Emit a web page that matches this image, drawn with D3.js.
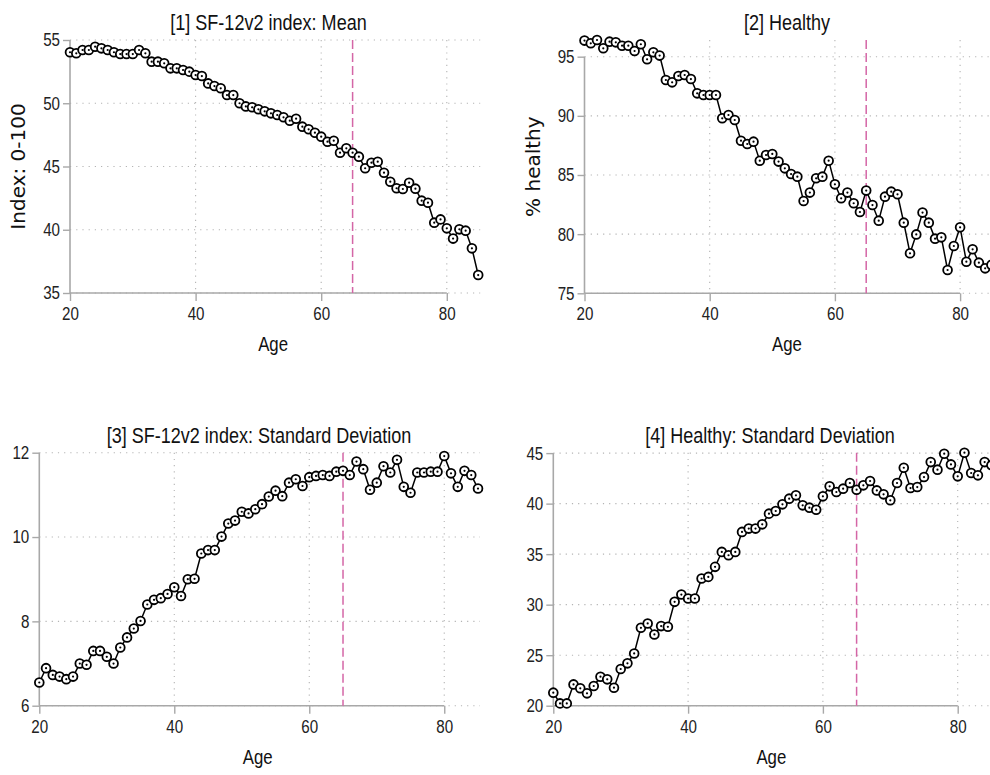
<!DOCTYPE html>
<html>
<head>
<meta charset="utf-8">
<script src="https://cdn.jsdelivr.net/npm/d3@7"></script>
<style>
  html, body { margin: 0; padding: 0; background: #fff; overflow: hidden; }
  svg { display: block; }
  .narrow { font-family: "Liberation Sans", Arial, Helvetica, sans-serif; }
</style>
</head>
<body>
<svg id="chart" width="990" height="775"></svg>
<script>
// ---------------- data ----------------
const ages = [20,21,22,23,24,25,26,27,28,29,30,31,32,33,34,35,36,37,38,39,40,41,42,43,44,45,46,47,48,49,50,51,52,53,54,55,56,57,58,59,60,61,62,63,64,65,66,67,68,69,70,71,72,73,74,75,76,77,78,79,80,81,82,83,84,85];

const sfMean = [54.03,53.95,54.21,54.21,54.47,54.34,54.21,54.03,53.89,53.89,53.89,54.21,53.95,53.29,53.29,53.16,52.76,52.76,52.63,52.50,52.23,52.15,51.57,51.36,51.18,50.65,50.65,50.00,49.75,49.68,49.52,49.36,49.20,49.07,48.89,48.62,48.78,48.15,47.94,47.67,47.36,46.96,47.04,46.09,46.44,46.09,45.78,44.86,45.30,45.38,44.51,43.80,43.28,43.22,43.72,43.25,42.30,42.14,40.56,40.82,40.11,39.30,40.03,39.93,38.53,36.42];

const healthyPct = [96.36,96.13,96.41,95.71,96.27,96.21,95.93,95.93,95.48,96.05,94.78,95.37,95.09,93.03,92.83,93.37,93.45,93.11,91.90,91.76,91.76,91.76,89.79,90.07,89.65,87.90,87.62,87.82,86.21,86.69,86.78,86.13,85.56,85.08,84.86,82.80,83.51,84.72,84.86,86.21,84.21,83.03,83.51,82.61,81.87,83.68,82.46,81.14,83.17,83.59,83.37,80.97,78.38,79.98,81.82,80.97,79.62,79.73,76.97,79.00,80.58,77.67,78.72,77.59,77.11,77.40];

const sfSD = [6.55,6.89,6.73,6.69,6.63,6.69,7.00,6.97,7.30,7.30,7.16,7.00,7.38,7.62,7.83,8.01,8.40,8.51,8.55,8.65,8.81,8.60,9.00,9.01,9.61,9.69,9.69,10.01,10.32,10.39,10.60,10.56,10.66,10.78,10.96,11.10,10.97,11.29,11.37,11.21,11.42,11.45,11.47,11.45,11.55,11.57,11.47,11.79,11.61,11.12,11.29,11.68,11.53,11.83,11.19,11.05,11.53,11.53,11.55,11.55,11.92,11.51,11.19,11.57,11.47,11.15];

const healthySD = [21.29,20.23,20.23,22.11,21.72,21.22,21.95,22.87,22.61,21.78,23.63,24.19,25.17,27.71,28.14,27.05,27.88,27.81,30.28,31.00,30.61,30.61,32.59,32.75,33.74,35.22,34.89,35.22,37.20,37.53,37.53,37.95,39.01,39.27,39.93,40.49,40.82,39.83,39.60,39.40,40.72,41.71,41.15,41.48,42.04,41.38,41.81,42.24,41.31,40.92,40.33,42.04,43.55,41.54,41.64,42.63,44.11,43.36,44.94,43.88,42.70,45.04,43.03,42.80,44.11,43.80];

const xTicks = [20, 40, 60, 80];
const yTicks1 = [35, 40, 45, 50, 55];
const yTicks2 = [75, 80, 85, 90, 95];
const yTicks3 = [6, 8, 10, 12];
const yTicks4 = [20, 25, 30, 35, 40, 45];
const refAge = 65;

const titles = ["[1] SF-12v2 index: Mean", "[2] Healthy", "[3] SF-12v2 index: Standard Deviation", "[4] Healthy: Standard Deviation"];
const yTitles = ["Index: 0-100", "% healthy", "", ""];
const xTitle = "Age";

// ---------------- layout ----------------
const panels = [
  { values: sfMean,     yTicks: yTicks1, left: 70,    right: 478.2, top: 40,    bottom: 293,   titleX: 268.5, titleY: 30,  yTitleX: 25 },
  { values: healthyPct, yTicks: yTicks2, left: 584.5, right: 991.4, top: 40,    bottom: 293.3, titleX: 787,   titleY: 30,  yTitleX: 540 },
  { values: sfSD,       yTicks: yTicks3, left: 39.3,  right: 478,   top: 452.7, bottom: 705.7, titleX: 259,   titleY: 443, yTitleX: null },
  { values: healthySD,  yTicks: yTicks4, left: 553.3, right: 991.4, top: 452.7, bottom: 705.7, titleX: 770,   titleY: 443, yTitleX: null }
];

const SX = 0.82; // horizontal condensing to mimic a narrow sans face
const svg = d3.select("#chart");
const axisColor = "#a8a8a8";
const gridColor = "#b4b4b4";
const refColor = "#d466a6";

panels.forEach((p, i) => {
  const data = ages.map((a, k) => ({ age: a, v: p.values[k] }));
  const x = d3.scaleLinear().domain([d3.min(ages), d3.max(ages)]).range([p.left, p.right]);
  const yMin = d3.min(p.yTicks);
  const yMax = Math.max(d3.max(p.yTicks), d3.max(p.values));
  const y = d3.scaleLinear().domain([yMin, yMax]).range([p.bottom, p.top]);

  const g = svg.append("g");
  const gridRight = x(d3.max(ages)) + 2;

  // horizontal dotted grid
  g.selectAll(".hgrid").data(p.yTicks).enter().append("line")
    .attr("x1", p.left).attr("x2", gridRight)
    .attr("y1", d => y(d)).attr("y2", d => y(d))
    .attr("stroke", gridColor).attr("stroke-width", 1.1)
    .attr("stroke-dasharray", "1.2,5");

  // vertical dotted grid
  g.selectAll(".vgrid").data(xTicks.filter(t => t !== xTicks[0])).enter().append("line")
    .attr("x1", d => x(d)).attr("x2", d => x(d))
    .attr("y1", p.top).attr("y2", p.bottom)
    .attr("stroke", gridColor).attr("stroke-width", 1.1)
    .attr("stroke-dasharray", "1.2,5");

  // y axis
  const yAxis = d3.axisLeft(y).tickValues(p.yTicks).tickSize(7).tickPadding(3).tickFormat(d3.format("d"));
  const ya = g.append("g").attr("transform", `translate(${p.left},0)`).call(yAxis);
  ya.select(".domain").remove();
  ya.append("line").attr("x1", 0).attr("x2", 0)
    .attr("y1", y(d3.min(p.yTicks))).attr("y2", y(d3.max(p.yTicks)))
    .attr("stroke", axisColor).attr("stroke-width", 1.6);
  ya.selectAll(".tick line").attr("stroke", axisColor).attr("stroke-width", 1.4);
  ya.selectAll(".tick text").attr("class", "narrow").attr("font-size", 18.5).attr("fill", "#222")
    .attr("x", -10 / SX).attr("transform", `scale(${SX},1)`);

  // x axis
  const xAxis = d3.axisBottom(x).tickValues(xTicks).tickSize(8).tickPadding(6).tickFormat(d3.format("d"));
  const xa = g.append("g").attr("transform", `translate(0,${p.bottom})`).call(xAxis);
  xa.select(".domain").remove();
  xa.append("line").attr("y1", 0).attr("y2", 0)
    .attr("x1", x(xTicks[0])).attr("x2", x(xTicks[xTicks.length - 1]))
    .attr("stroke", axisColor).attr("stroke-width", 1.6);
  xa.selectAll(".tick line").attr("stroke", axisColor).attr("stroke-width", 1.4);
  xa.selectAll(".tick text").attr("class", "narrow").attr("font-size", 18.5).attr("fill", "#222")
    .attr("transform", `scale(${SX},1)`);

  // reference line at age 65
  g.append("line")
    .attr("x1", x(refAge)).attr("x2", x(refAge))
    .attr("y1", p.top).attr("y2", p.bottom)
    .attr("stroke", refColor).attr("stroke-width", 1.5)
    .attr("stroke-dasharray", "9,4");

  // series line
  const line = d3.line().x(d => x(d.age)).y(d => y(d.v));
  g.append("path").datum(data)
    .attr("d", line).attr("fill", "none")
    .attr("stroke", "#000").attr("stroke-width", 1.5);

  // markers
  const m = g.selectAll(".pt").data(data).enter().append("g")
    .attr("transform", d => `translate(${x(d.age)},${y(d.v)})`);
  m.append("circle").attr("r", 4.4).attr("fill", "#fff")
    .attr("stroke", "#000").attr("stroke-width", 1.8);
  m.append("circle").attr("r", 1.1).attr("fill", "#000");

  // titles
  g.append("text").attr("class", "narrow")
    .attr("transform", `translate(${p.titleX},${p.titleY}) scale(${SX},1)`)
    .attr("text-anchor", "middle").attr("font-size", 22).attr("fill", "#111")
    .text(titles[i]);

  g.append("text").attr("class", "narrow")
    .attr("transform", `translate(${(p.left + p.right) / 2 - 1},${p.bottom + 58}) scale(${SX},1)`)
    .attr("text-anchor", "middle").attr("font-size", 20.5).attr("fill", "#111")
    .text(xTitle);

  if (yTitles[i]) {
    const cy = (p.top + p.bottom) / 2;
    g.append("text")
      .attr("transform", `translate(${p.yTitleX},${cy}) rotate(-90)`)
      .attr("text-anchor", "middle")
      .attr("font-family", "'DejaVu Sans', sans-serif")
      .attr("font-size", 20).attr("fill", "#111")
      .text(yTitles[i]);
  }
});
</script>
</body>
</html>
